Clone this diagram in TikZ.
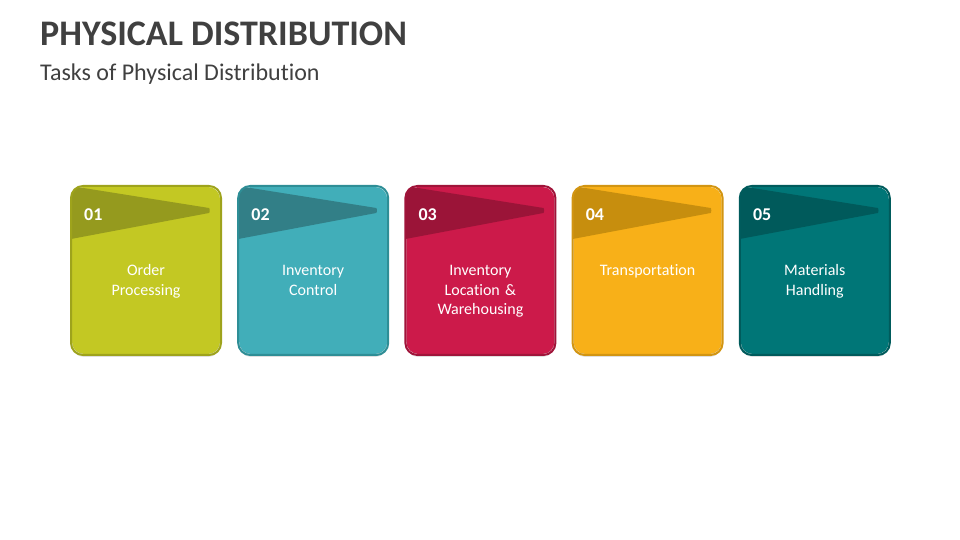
\documentclass[tikz,border=0pt]{standalone}
\usepackage{fontspec}
\setmainfont{Carlito}[Ligatures=NoCommon]
\usetikzlibrary{positioning,shadows}

\definecolor{titlegray}{HTML}{404040}
\definecolor{fillA}{HTML}{C3C823}\definecolor{edgeA}{HTML}{9EA31C}\definecolor{tipA}{HTML}{959A1E}
\definecolor{fillB}{HTML}{41AEB9}\definecolor{edgeB}{HTML}{2E8E96}\definecolor{tipB}{HTML}{327F87}
\definecolor{fillC}{HTML}{CC1A4A}\definecolor{edgeC}{HTML}{A0143A}\definecolor{tipC}{HTML}{9B1438}
\definecolor{fillD}{HTML}{F8B018}\definecolor{edgeD}{HTML}{D29512}\definecolor{tipD}{HTML}{C78E0E}
\definecolor{fillE}{HTML}{007677}\definecolor{edgeE}{HTML}{005B5C}\definecolor{tipE}{HTML}{005A5B}

\begin{document}
\begin{tikzpicture}[%
    x=1pt, y=1pt,
    taskbox/.style={
        rectangle,
        rounded corners = 12pt,
        minimum width = 148pt,
        minimum height = 167pt,
        line width = 2pt,
        drop shadow={shadow xshift=0pt, shadow yshift=-3pt, opacity=0.25},
        },
    boxedge/.style={
        rounded corners = 12pt,
        line width = 2pt,
        },
    numtext/.style={
        text = white,
        font = \fontsize{18}{20}\selectfont\bfseries,
        anchor = west,
        inner sep = 0,
        },
    tasktext/.style={
        text = white,
        font = \fontsize{16}{19.5}\selectfont,
        align = center,
        text width = 140pt,
        anchor = base,
        inner sep = 0,
        },
]

\useasboundingbox (0,0) rectangle (960,540);

\node[anchor=base west, inner sep=0, text=titlegray,
      font=\fontsize{36}{40}\selectfont\bfseries] (title) at (40,494) {PHYSICAL DISTRIBUTION};
\node[anchor=base west, inner sep=0, text=titlegray,
      font=\fontsize{24}{28}\selectfont] (subtitle) at (40,459) {Tasks of Physical Distribution};

\foreach \c/\txt [count=\i from 0] in {A/{Order\\Processing},
                                      B/{Inventory\\Control},
                                      C/{Inventory\\Location~\&\\Warehousing},
                                      D/{Transportation},
                                      E/{Materials\\Handling}}{
    \node[taskbox, fill=fill\c] (box\c) at (146+167.2*\i,269.5) {};

    % darker arrow band across the top
    \begin{scope}
    \clip[rounded corners=12pt] (box\c.south west) rectangle (box\c.north east);
    \fill[tip\c] (box\c.north west)
        -- ([shift={(-12pt,-22pt)}]box\c.north east)
        to[out=-20, in=20, looseness=0.5] ([shift={(-12pt,-27pt)}]box\c.north east)
        -- ([yshift=-53pt]box\c.north west) -- cycle;
    \end{scope}

    \draw[boxedge, edge\c] (box\c.south west) rectangle (box\c.north east);

    \node[numtext] (num\c) at ([shift={(13pt,-29pt)}]box\c.north west) {0\the\numexpr\i+1\relax};
    \node[tasktext] (task\c) at ([yshift=-90pt]box\c.north) {\txt};
}

\end{tikzpicture}
\end{document}
